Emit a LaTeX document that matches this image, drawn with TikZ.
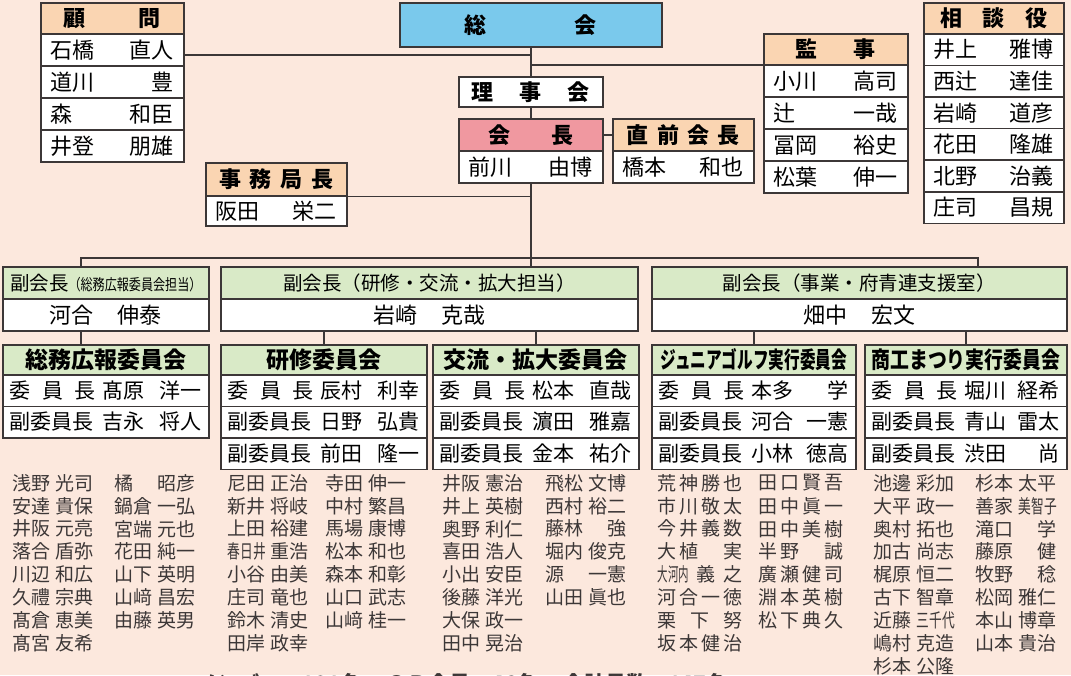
\documentclass[tikz,border=0pt]{standalone}
\usepackage{fontspec}
\usepackage{graphicx}
\usepackage{tikz}
\usetikzlibrary{positioning, calc}
\newfontfamily\jp{Noto Sans CJK JP}
\definecolor{org_bg}{RGB}{252, 232, 221}
\definecolor{org_line}{RGB}{60, 55, 55}
\definecolor{org_head}{RGB}{250, 213, 178}
\definecolor{org_blue}{RGB}{122, 201, 236}
\definecolor{org_pink}{RGB}{240, 152, 160}
\definecolor{org_green}{RGB}{217, 234, 199}
\newcommand{\jfont}[1]{\jp\fontsize{#1}{#1}\selectfont}
\newcommand{\spread}[2]{\makebox[#1][s]{#2}}
\newcommand{\iin}{\spread{86pt}{委\hfill 員\hfill 長}\hspace{7pt}}
\newcommand{\fuku}{\makebox[86pt][l]{副委員長}\hspace{7pt}}

\begin{document}
\begin{tikzpicture}[x=1pt, y=-1pt, line width=1.5pt,
    head/.style={draw=org_line, fill=org_head, anchor=north west, inner sep=0pt,
                 font=\jfont{22}\bfseries},
    cell/.style={draw=org_line, fill=white, anchor=north west, inner xsep=10pt,
                 inner ysep=0pt, align=left, font=\jfont{22}},
    vphead/.style={draw=org_line, fill=org_green, anchor=north west, inner sep=0pt,
                   minimum height=32pt, font=\jfont{19.5}},
    vpname/.style={draw=org_line, fill=white, anchor=north west, inner sep=0pt,
                   minimum height=32pt, font=\jfont{22}},
    comhead/.style={draw=org_line, fill=org_green, anchor=north west, inner sep=0pt,
                    minimum height=30pt, font=\jfont{23}\bfseries},
    comrow/.style={draw=org_line, fill=white, anchor=north west, inner xsep=7pt,
                   inner ysep=0pt, minimum height=31.5pt, align=left, font=\jfont{21}},
    member/.style={anchor=west, inner sep=0pt, text=org_line, align=left,
                   text width=81pt, font=\jfont{19}},
    link/.style={draw=org_line, line width=1.5pt}]

  % page
  \fill[org_bg] (0,0) rectangle (1071,675);
  \useasboundingbox (0,0) rectangle (1071,675);

  % top
  \node[head, fill=org_blue, minimum width=262pt, minimum height=44pt] (soukai) at (399,2)
    {\spread{132pt}{総\hfill 会}};
  \node[head, fill=white, minimum width=144pt, minimum height=30pt] (rijikai) at (458,76)
    {\spread{118pt}{理\hfill 事\hfill 会}};
  \node[head, fill=org_pink, minimum width=144pt, minimum height=32pt] (kaicho) at (458,118)
    {\spread{85pt}{会\hfill 長}};
  \node[cell, text width=124pt, minimum height=32pt] (kaicho1) at (458,150) {前川\hfill 由博};
  \node[head, minimum width=141pt, minimum height=32pt] (zenkai) at (612,118)
    {\spread{113pt}{直\hfill 前\hfill 会\hfill 長}};
  \node[cell, text width=121pt, minimum height=32pt] (zenkai1) at (612,150) {橋本\hfill 和也};

  \node[head, minimum width=143pt, minimum height=31pt] (komon) at (40,2)
    {\spread{97pt}{顧\hfill 問}};
  \foreach \nm [count=\i] in {{石橋\hfill 直人}, {道川\hfill 豊}, {森\hfill 和臣}, {井登\hfill 朋雄}}
    \node[cell, text width=123pt, minimum height=32pt] (komon\i) at (40,{33+32*(\i-1)}) {\nm};

  \node[head, minimum width=144pt, minimum height=31pt] (kanji) at (763,33)
    {\spread{80pt}{監\hfill 事}};
  \foreach \nm [count=\i] in {{小川\hfill 高司}, {辻\hfill 一哉}, {冨岡\hfill 裕史}, {松葉\hfill 伸一}}
    \node[cell, text width=124pt, minimum height=32pt] (kanji\i) at (763,{64+32*(\i-1)}) {\nm};

  \node[head, minimum width=140pt, minimum height=31pt] (soudan) at (923,2)
    {\spread{107pt}{相\hfill 談\hfill 役}};
  \foreach \nm [count=\i] in {{井上\hfill 雅博}, {西辻\hfill 達佳}, {岩崎\hfill 道彦},
                              {花田\hfill 隆雄}, {北野\hfill 治義}, {庄司\hfill 昌規}}
    \node[cell, text width=120pt, minimum height=31.6pt] (soudan\i) at (923,{33+31.6*(\i-1)}) {\nm};

  \node[head, minimum width=141pt, minimum height=33pt] (jimu) at (205,162)
    {\spread{114pt}{事\hfill 務\hfill 局\hfill 長}};
  \node[cell, text width=121pt, minimum height=30pt] (jimu1) at (205,195) {阪田\hfill 栄二};

  % vice presidents
  \node[vphead, minimum width=206pt] (vp1) at (2,266)
    {副会長{\jfont{15.5}\scalebox{0.78}[1]{（総務広報委員会担当）}}};
  \node[vpname, minimum width=206pt] (vp1n) at (2,298) {河合\hspace{1.1em}伸泰};
  \node[vphead, minimum width=417pt] (vp2) at (220,266) {副会長（研修・交流・拡大担当）};
  \node[vpname, minimum width=417pt] (vp2n) at (220,298) {岩崎\hspace{1.1em}克哉};
  \node[vphead, minimum width=415pt] (vp3) at (651,266) {副会長（事業・府青連支援室）};
  \node[vpname, minimum width=415pt] (vp3n) at (651,298) {畑中\hspace{1.1em}宏文};

  % committees
  \node[comhead, minimum width=206pt] (soumu) at (2,344) {総務広報委員会};
  \foreach \nm [count=\i] in {{\iin 髙原\hfill 洋一}, {\fuku 吉永\hfill 将人}}
    \node[comrow, text width=192pt] (soumu\i) at (2,{374+31.5*(\i-1)}) {\nm};
  \node[comhead, minimum width=206pt] (kenshu) at (220,344) {研修委員会};
  \foreach \nm [count=\i] in {{\iin 辰村\hfill 利幸}, {\fuku 日野\hfill 弘貴}, {\fuku 前田\hfill 隆一}}
    \node[comrow, text width=192pt] (kenshu\i) at (220,{374+31.5*(\i-1)}) {\nm};
  \node[comhead, minimum width=206pt] (koryu) at (432,344) {交流・拡大委員会};
  \foreach \nm [count=\i] in {{\iin 松本\hfill 直哉}, {\fuku 濵田\hfill 雅嘉}, {\fuku 金本\hfill 祐介}}
    \node[comrow, text width=192pt] (koryu\i) at (432,{374+31.5*(\i-1)}) {\nm};
  \node[comhead, minimum width=204pt] (golf) at (651,344)
    {\scalebox{0.68}[1]{ジュニアゴルフ実行委員会}};
  \foreach \nm [count=\i] in {{\iin 本多\hfill 学}, {\fuku 河合\hfill 一憲}, {\fuku 小林\hfill 徳高}}
    \node[comrow, text width=190pt] (golf\i) at (651,{374+31.5*(\i-1)}) {\nm};
  \node[comhead, minimum width=202pt] (shoko) at (864,344)
    {\scalebox{0.82}[1]{商工まつり実行委員会}};
  \foreach \nm [count=\i] in {{\iin 堀川\hfill 経希}, {\fuku 青山\hfill 雷太}, {\fuku 渋田\hfill 尚}}
    \node[comrow, text width=188pt] (shoko\i) at (864,{374+31.5*(\i-1)}) {\nm};

  % connectors
  \coordinate (komonline) at (530,55);
  \coordinate (kanjiline) at (530,65);
  \coordinate (vp1x) at (81,258);
  \coordinate (vp3x) at (978,258);
  \draw[link] (soukai.south) -- (rijikai.north);
  \draw[link] (rijikai.south) -- (kaicho.north);
  \draw[link] (kaicho.east) -- (zenkai.west);
  \draw[link] (komonline) -- (komonline -| komon1.east);
  \draw[link] (kanjiline) -- (kanjiline -| kanji.west);
  \draw[link] (jimu.south east) -- (jimu.south east -| kaicho1.south);
  \draw[link] (kaicho1.south) -- (kaicho1.south |- vp2.north);
  \draw[link] (vp1x |- vp1.north) -- (vp1x) -- (vp3x) -- (vp3x |- vp3.north);
  \draw[link] (vp1x |- vp1n.south) -- (vp1x |- soumu.north);
  \draw[link] (kenshu.north) -- (kenshu.north |- vp2n.south);
  \draw[link] (koryu.north) -- (koryu.north |- vp2n.south);
  \draw[link] (golf.north) -- (golf.north |- vp3n.south);
  \draw[link] (shoko.north) -- (shoko.north |- vp3n.south);

  % members
  \foreach \nm [count=\i] in {{浅野\hfill 光司}, {安達\hfill 貴保}, {井阪\hfill 元亮}, {落合\hfill 盾弥},
                              {川辺\hfill 和広}, {久禮\hfill 宗典}, {髙倉\hfill 恵美}, {髙宮\hfill 友希}}
    \node[member] (ga\i) at (12,{483+22.9*(\i-1)}) {\nm};
  \foreach \nm [count=\i] in {{橘\hfill 昭彦}, {鍋倉\hfill 一弘}, {宮端\hfill 元也}, {花田\hfill 純一},
                              {山下\hfill 英明}, {山﨑\hfill 昌宏}, {由藤\hfill 英男}}
    \node[member] (gb\i) at (114,{483+22.9*(\i-1)}) {\nm};
  \foreach \nm [count=\i] in {{尼田\hfill 正治}, {新井\hfill 将岐}, {上田\hfill 裕建},
                              {\scalebox{0.67}[1]{春日井}\hfill 重浩}, {小谷\hfill 由美},
                              {庄司\hfill 竜也}, {鈴木\hfill 清史}, {田岸\hfill 政幸}}
    \node[member] (gc\i) at (227,{483+22.9*(\i-1)}) {\nm};
  \foreach \nm [count=\i] in {{寺田\hfill 伸一}, {中村\hfill 繁昌}, {馬場\hfill 康博}, {松本\hfill 和也},
                              {森本\hfill 和彰}, {山口\hfill 武志}, {山﨑\hfill 桂一}}
    \node[member] (gd\i) at (325,{483+22.9*(\i-1)}) {\nm};
  \foreach \nm [count=\i] in {{井阪\hfill 憲治}, {井上\hfill 英樹}, {奥野\hfill 利仁}, {喜田\hfill 浩人},
                              {小出\hfill 安臣}, {後藤\hfill 洋光}, {大保\hfill 政一}, {田中\hfill 晃治}}
    \node[member] (ge\i) at (442,{483+22.9*(\i-1)}) {\nm};
  \foreach \nm [count=\i] in {{飛松\hfill 文博}, {西村\hfill 裕二}, {藤林\hfill 強}, {堀内\hfill 俊克},
                              {源\hfill 一憲}, {山田\hfill 眞也}}
    \node[member] (gf\i) at (545,{483+22.9*(\i-1)}) {\nm};
  \foreach \nm [count=\i] in {{荒\hfill 神\hfill 勝\hfill 也}, {市\hfill 川\hfill 敬\hfill 太},
                              {今\hfill 井\hfill 義\hfill 数}, {大\hfill 植\hfill\phantom{勝}\hfill 実},
                              {\scalebox{0.55}[1]{大河内}\hfill 義\hfill 之}, {河\hfill 合\hfill 一\hfill 徳},
                              {栗\hfill 下\hfill 努}, {坂\hfill 本\hfill 健\hfill 治}}
    \node[member, text width=85pt] (gg\i) at (657,{483+22.9*(\i-1)}) {\nm};
  \foreach \nm [count=\i] in {{田\hfill 口\hfill 賢\hfill 吾}, {田\hfill 中\hfill 眞\hfill 一},
                              {田\hfill 中\hfill 美\hfill 樹}, {半\hfill 野\hfill\phantom{勝}\hfill 誠},
                              {廣\hfill 瀬\hfill 健\hfill 司}, {淵\hfill 本\hfill 英\hfill 樹},
                              {松\hfill 下\hfill 典\hfill 久}}
    \node[member, text width=85pt] (gh\i) at (758,{483+22.9*(\i-1)}) {\nm};
  \foreach \nm [count=\i] in {{池邊\hfill 彩加}, {大平\hfill 政一}, {奥村\hfill 拓也}, {加古\hfill 尚志},
                              {梶原\hfill 恒二}, {古下\hfill 智章}, {近藤\hfill \scalebox{0.67}[1]{三千代}},
                              {嶋村\hfill 克造}, {杉本\hfill 公隆}}
    \node[member] (gi\i) at (873,{483+22.9*(\i-1)}) {\nm};
  \foreach \nm [count=\i] in {{杉本\hfill 太平}, {善家\hfill \scalebox{0.67}[1]{美智子}}, {滝口\hfill 学},
                              {藤原\hfill 健}, {牧野\hfill 稔}, {松岡\hfill 雅仁}, {本山\hfill 博章},
                              {山本\hfill 貴治}}
    \node[member] (gj\i) at (975,{483+22.9*(\i-1)}) {\nm};

  \node[anchor=west, inner sep=0pt, text=org_line, font=\jfont{21}\bfseries] (total) at (196,683)
    {メンバー：101名\hspace{1.2em}ＯＢ会員：46名\hspace{1.2em}合計員数：147名};
\end{tikzpicture}
\end{document}
